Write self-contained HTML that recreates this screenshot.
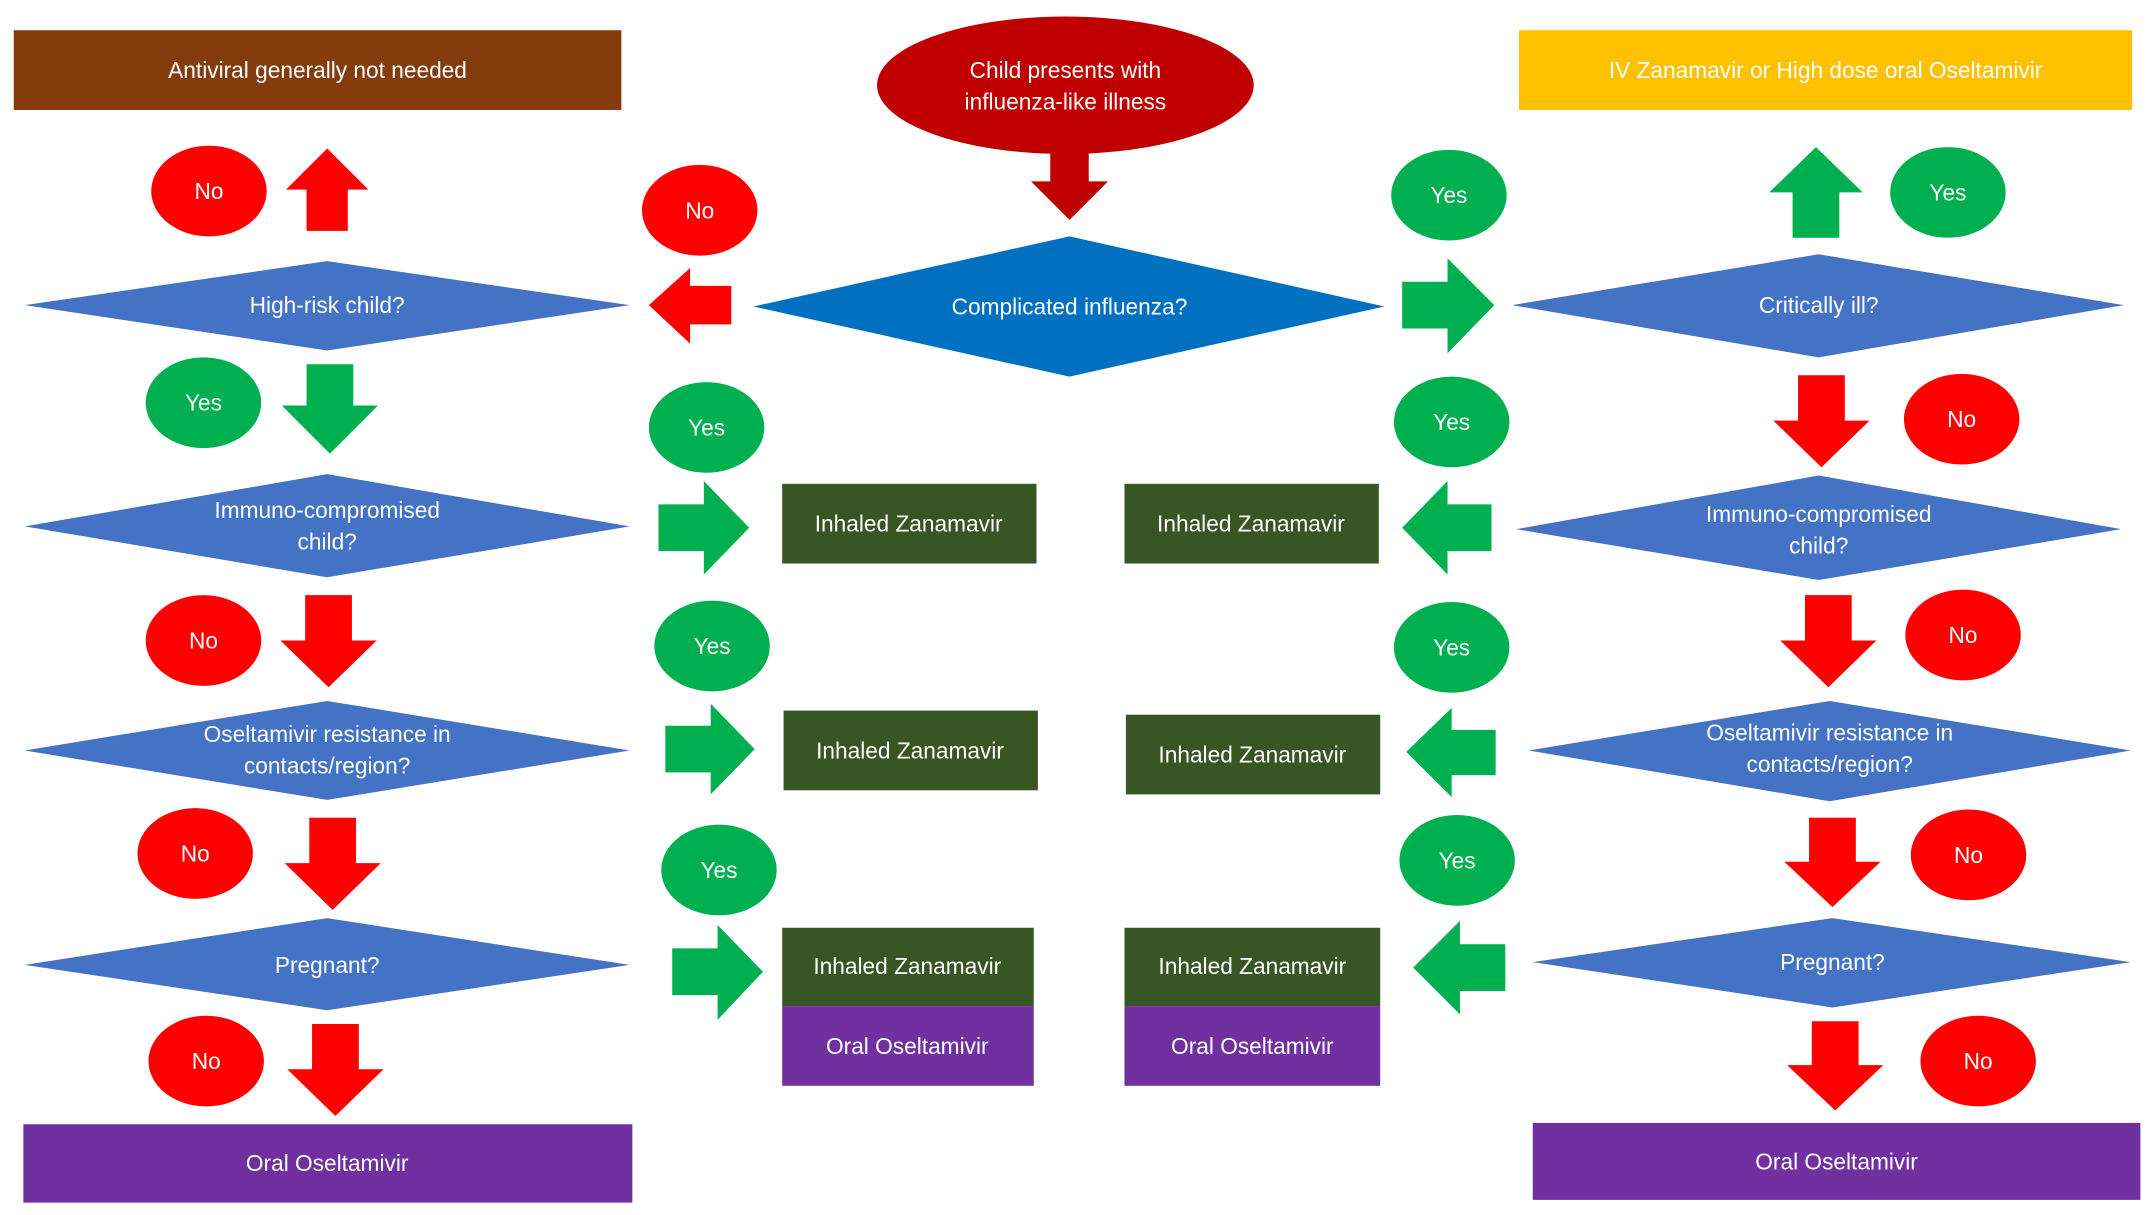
<!DOCTYPE html>
<html><head><meta charset="utf-8"><style>
html,body{margin:0;padding:0;background:#fff;width:2150px;height:1215px;overflow:hidden}
svg{display:block}
text{font-family:"Liberation Sans",sans-serif;font-size:16.5px;fill:#fff;text-anchor:middle;dominant-baseline:central}
</style></head><body>
<svg width="2150" height="1215" viewBox="0 0 1564 884" preserveAspectRatio="none">
<rect width="1564" height="884" fill="#fff"/>
<!-- top boxes -->
<rect x="10" y="22" width="442" height="58" fill="#843C0C"/>
<text x="231" y="51">Antiviral generally not needed</text>
<rect x="1105" y="22" width="446" height="58" fill="#FFC000"/>
<text x="1328" y="51">IV Zanamavir or High dose  oral Oseltamivir</text>
<ellipse cx="775" cy="62" rx="137" ry="50" fill="#C00000"/>
<text x="775" y="51">Child presents with</text>
<text x="775" y="74">influenza-like illness</text>
<polygon points="764,110 792,110 792,132 806,132 778,160 750,132 764,132" fill="#C00000"/>
<!-- center diamond -->
<polygon points="548,223 778,172 1007,223 778,274" fill="#0070C0"/>
<text x="778" y="223">Complicated influenza?</text>
<!-- left diamonds -->
<polygon points="18,222 238,190 458,222 238,255" fill="#4472C4"/>
<text x="238" y="222">High-risk child?</text>
<polygon points="18,383 238,345 458,383 238,420" fill="#4472C4"/>
<text x="238" y="371">Immuno-compromised</text><text x="238" y="394">child?</text>
<polygon points="18,546 238,510 458,546 238,582" fill="#4472C4"/>
<text x="238" y="534">Oseltamivir resistance in</text><text x="238" y="557">contacts/region?</text>
<polygon points="18,702 238,668 458,702 238,735" fill="#4472C4"/>
<text x="238" y="702">Pregnant?</text>
<rect x="17" y="818" width="443" height="57" fill="#7030A0"/>
<text x="238" y="846">Oral Oseltamivir</text>
<!-- right diamonds -->
<polygon points="1100,222 1323,185 1545,222 1323,260" fill="#4472C4"/>
<text x="1323" y="222">Critically ill?</text>
<polygon points="1103,385 1323,346 1543,385 1323,422" fill="#4472C4"/>
<text x="1323" y="374">Immuno-compromised</text><text x="1323" y="397">child?</text>
<polygon points="1112,546 1331,510 1550,546 1331,583" fill="#4472C4"/>
<text x="1331" y="533">Oseltamivir resistance in</text><text x="1331" y="556">contacts/region?</text>
<polygon points="1115,700 1333,668 1550,700 1333,733" fill="#4472C4"/>
<text x="1333" y="700">Pregnant?</text>
<rect x="1115" y="817" width="442" height="56" fill="#7030A0"/>
<text x="1336" y="845">Oral Oseltamivir</text>
<!-- middle boxes -->
<rect x="569" y="352" width="185" height="58" fill="#375623"/><text x="661" y="381">Inhaled Zanamavir</text>
<rect x="570" y="517" width="185" height="58" fill="#375623"/><text x="662" y="546">Inhaled Zanamavir</text>
<rect x="569" y="675" width="183" height="57" fill="#375623"/><text x="660" y="703">Inhaled Zanamavir</text>
<rect x="569" y="732" width="183" height="58" fill="#7030A0"/><text x="660" y="761">Oral Oseltamivir</text>
<rect x="818" y="352" width="185" height="58" fill="#375623"/><text x="910" y="381">Inhaled Zanamavir</text>
<rect x="819" y="520" width="185" height="58" fill="#375623"/><text x="911" y="549">Inhaled Zanamavir</text>
<rect x="818" y="675" width="186" height="57" fill="#375623"/><text x="911" y="703">Inhaled Zanamavir</text>
<rect x="818" y="732" width="186" height="58" fill="#7030A0"/><text x="911" y="761">Oral Oseltamivir</text>
<!-- arrows -->
<g fill="#FF0000">
<polygon points="238,108 268,138 253,138 253,168 223,168 223,138 208,138"/>
<polygon points="222,433 256,433 256,466 274,466 239,500 204,466 222,466"/>
<polygon points="225,595 259,595 259,628 277,628 242,662 207,628 225,628"/>
<polygon points="227,745 261,745 261,778 279,778 244,812 209,778 227,778"/>
<polygon points="472,222 502,195 502,208 532,208 532,236 502,236 502,250"/>
<polygon points="1308,273 1342,273 1342,306 1360,306 1325,340 1290,306 1308,306"/>
<polygon points="1313,433 1347,433 1347,466 1365,466 1330,500 1295,466 1313,466"/>
<polygon points="1316,595 1350,595 1350,627 1368,627 1333,660 1298,627 1316,627"/>
<polygon points="1318,743 1352,743 1352,775 1370,775 1335,808 1300,775 1318,775"/>
</g>
<g fill="#00B050">
<polygon points="223,265 257,265 257,295 275,295 240,330 205,295 223,295"/>
<polygon points="1020,205 1053,205 1053,188 1087,222 1053,257 1053,239 1020,239"/>
<polygon points="479,367 512,367 512,350 545,384 512,418 512,401 479,401"/>
<polygon points="484,528 517,528 517,512 549,545 517,578 517,562 484,562"/>
<polygon points="489,690 522,690 522,673 555,707 522,742 522,724 489,724"/>
<polygon points="1020,384 1053,350 1053,367 1085,367 1085,401 1053,401 1053,418"/>
<polygon points="1023,547 1056,515 1056,531 1088,531 1088,564 1056,564 1056,580"/>
<polygon points="1028,704 1062,670 1062,687 1095,687 1095,721 1062,721 1062,738"/>
<polygon points="1321,107 1355,140 1338,140 1338,173 1304,173 1304,140 1287,140"/>
</g>
<!-- ovals -->
<g fill="#FF0000">
<ellipse cx="152" cy="139" rx="42" ry="33"/><ellipse cx="148" cy="466" rx="42" ry="33"/>
<ellipse cx="142" cy="621" rx="42" ry="33"/><ellipse cx="150" cy="772" rx="42" ry="33"/>
<ellipse cx="509" cy="153" rx="42" ry="33"/>
<ellipse cx="1427" cy="305" rx="42" ry="33"/><ellipse cx="1428" cy="462" rx="42" ry="33"/>
<ellipse cx="1432" cy="622" rx="42" ry="33"/><ellipse cx="1439" cy="772" rx="42" ry="33"/>
</g>
<g fill="#00B050">
<ellipse cx="148" cy="293" rx="42" ry="33"/>
<ellipse cx="514" cy="311" rx="42" ry="33"/><ellipse cx="518" cy="470" rx="42" ry="33"/><ellipse cx="523" cy="633" rx="42" ry="33"/>
<ellipse cx="1054" cy="142" rx="42" ry="33"/>
<ellipse cx="1056" cy="307" rx="42" ry="33"/><ellipse cx="1056" cy="471" rx="42" ry="33"/><ellipse cx="1060" cy="626" rx="42" ry="33"/>
<ellipse cx="1417" cy="140" rx="42" ry="33"/>
</g>
<text x="152" y="139">No</text><text x="148" y="466">No</text><text x="142" y="621">No</text><text x="150" y="772">No</text>
<text x="509" y="153">No</text>
<text x="1427" y="305">No</text><text x="1428" y="462">No</text><text x="1432" y="622">No</text><text x="1439" y="772">No</text>
<text x="148" y="293">Yes</text>
<text x="514" y="311">Yes</text><text x="518" y="470">Yes</text><text x="523" y="633">Yes</text>
<text x="1054" y="142">Yes</text>
<text x="1056" y="307">Yes</text><text x="1056" y="471">Yes</text><text x="1060" y="626">Yes</text>
<text x="1417" y="140">Yes</text>
</svg>
</body></html>
